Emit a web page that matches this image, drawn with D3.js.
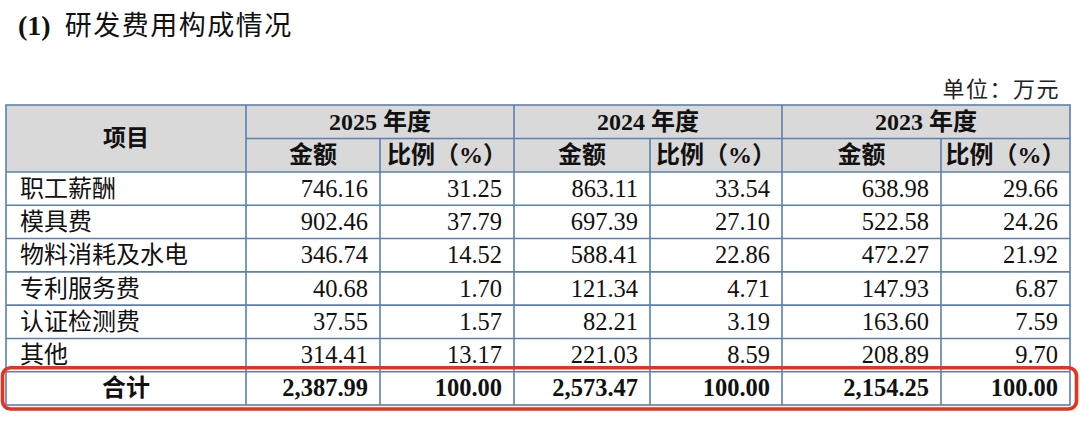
<!DOCTYPE html>
<html>
<head>
<meta charset="utf-8">
<script src="https://cdn.jsdelivr.net/npm/d3@7"></script>
<style>
  html, body { margin: 0; padding: 0; background: #fff; }
  svg { display: block; }
</style>
</head>
<body>
<div id="chart"></div>
<script>
// table content
const title = "研发费用构成情况";
const unitLabel = "单位：万元";
const years = ["2025 年度", "2024 年度", "2023 年度"];
const subHeaders = ["金额", "比例（%）"];
const items = ["职工薪酬", "模具费", "物料消耗及水电", "专利服务费", "认证检测费", "其他"];
const amount2025 = [746.16, 902.46, 346.74, 40.68, 37.55, 314.41];
const ratio2025 = [31.25, 37.79, 14.52, 1.70, 1.57, 13.17];
const amount2024 = [863.11, 697.39, 588.41, 121.34, 82.21, 221.03];
const ratio2024 = [33.54, 27.10, 22.86, 4.71, 3.19, 8.59];
const amount2023 = [638.98, 522.58, 472.27, 147.93, 163.60, 208.89];
const ratio2023 = [29.66, 24.26, 21.92, 6.87, 7.59, 9.70];
const totalLabel = "合计";
const totalAmounts = [2387.99, 2573.47, 2154.25];
const totalRatios = [100.00, 100.00, 100.00];

const width = 1080, height = 430;
const lineColor = "#5b80ad";
const headFill = "#d9d9d9";
const fontFamily = "'Liberation Serif', 'Noto Sans CJK SC', serif";

const svg = d3.select("#chart").append("svg")
    .attr("width", width)
    .attr("height", height)
    .style("font-family", fontFamily);

// column edges
const colEdges = [6, 246, 380, 514, 650, 782, 941, 1070];
const tableTop = 105, headRow = 33.5;
const bodyTop = tableTop + headRow * 2;
const nRows = items.length + 1;

const y = d3.scaleLinear()
    .domain([0, nRows])
    .range([bodyTop, 405]);

const fmt = d3.format(",.2f");

// title
const t = svg.append("text")
    .attr("x", 18)
    .attr("y", 35)
    .style("font-size", "27px")
    .attr("fill", "#111");
t.append("tspan").style("font-weight", "bold").style("font-size", "28px").text("(1)");
t.append("tspan").attr("dx", 14).style("letter-spacing", "1.5px").text(title);

// unit
svg.append("text")
    .attr("x", 1060)
    .attr("y", 97)
    .attr("text-anchor", "end")
    .style("font-size", "22px")
    .style("letter-spacing", "1.5px")
    .attr("fill", "#222")
    .text(unitLabel);

// header background
svg.append("rect")
    .attr("x", colEdges[0])
    .attr("y", tableTop)
    .attr("width", colEdges[7] - colEdges[0])
    .attr("height", headRow * 2)
    .attr("fill", headFill);

// header texts
svg.append("text")
    .attr("x", (colEdges[0] + colEdges[1]) / 2)
    .attr("y", tableTop + headRow + 7)
    .attr("text-anchor", "middle")
    .style("font-size", "23px")
    .style("font-weight", "bold")
    .attr("fill", "#111")
    .text("项目");

years.forEach((yr, i) => {
  const x0 = colEdges[1 + i * 2], x1 = colEdges[3 + i * 2];
  svg.append("text")
      .attr("x", (x0 + x1) / 2)
      .attr("y", tableTop + headRow / 2 + 8)
      .attr("text-anchor", "middle")
      .style("font-size", "24px")
      .style("font-weight", "bold")
      .attr("fill", "#111")
      .text(yr);
  subHeaders.forEach((s, j) => {
    const a = colEdges[1 + i * 2 + j], b = colEdges[2 + i * 2 + j];
    svg.append("text")
        .attr("x", (a + b) / 2)
        .attr("y", tableTop + headRow * 1.5 + 8)
        .attr("text-anchor", "middle")
        .style("font-size", "24px")
        .style("font-weight", "bold")
        .attr("fill", "#111")
        .text(s);
  });
});

// body rows
const amounts = [amount2025, amount2024, amount2023];
const ratios = [ratio2025, ratio2024, ratio2023];
const rows = items.map((name, r) => {
  const cells = [];
  amounts.forEach((a, k) => { cells.push(a[r]); cells.push(ratios[k][r]); });
  return { name: name, cells: cells, total: false };
});
const totalCells = [];
totalAmounts.forEach((a, k) => { totalCells.push(a); totalCells.push(totalRatios[k]); });
rows.push({ name: totalLabel, cells: totalCells, total: true });

const rowG = svg.selectAll("g.row")
    .data(rows)
    .enter()
    .append("g")
    .attr("class", "row")
    .attr("transform", (d, i) => `translate(0,${y(i) + (y(1) - y(0)) / 2 + 8})`);

rowG.append("text")
    .attr("x", d => d.total ? (colEdges[0] + colEdges[1]) / 2 : 20)
    .attr("text-anchor", d => d.total ? "middle" : "start")
    .style("font-size", "24px")
    .style("font-weight", d => d.total ? "bold" : "normal")
    .attr("fill", "#111")
    .text(d => d.name);

rowG.each(function (d) {
  d3.select(this).selectAll("text.num")
      .data(d.cells)
      .enter()
      .append("text")
      .attr("class", "num")
      .attr("x", (v, j) => colEdges[j + 2] - 12)
      .attr("text-anchor", "end")
      .style("font-size", "24.5px")
      .style("font-weight", d.total ? "bold" : "normal")
      .attr("fill", "#111")
      .text(v => fmt(v));
});

// grid lines
const grid = svg.append("g")
    .attr("stroke", lineColor)
    .attr("stroke-width", 1.6)
    .attr("fill", "none");

grid.append("rect")
    .attr("x", colEdges[0])
    .attr("y", tableTop)
    .attr("width", colEdges[7] - colEdges[0])
    .attr("height", y(nRows) - tableTop);

// horizontal lines
grid.append("line")
    .attr("x1", colEdges[1]).attr("x2", colEdges[7])
    .attr("y1", tableTop + headRow).attr("y2", tableTop + headRow);
d3.range(0, nRows).forEach(i => {
  grid.append("line")
      .attr("x1", colEdges[0]).attr("x2", colEdges[7])
      .attr("y1", y(i)).attr("y2", y(i));
});

// vertical lines
colEdges.slice(1, -1).forEach((cx, i) => {
  const isYearEdge = (i % 2 === 0);
  grid.append("line")
      .attr("x1", cx).attr("x2", cx)
      .attr("y1", isYearEdge ? tableTop : tableTop + headRow)
      .attr("y2", y(nRows));
});

// highlight box around total row
svg.append("rect")
    .attr("x", 2.5)
    .attr("y", y(nRows - 1) - 4)
    .attr("width", 1074)
    .attr("height", y(nRows) - y(nRows - 1) + 8)
    .attr("rx", 8)
    .attr("fill", "none")
    .attr("stroke", "#e8321f")
    .attr("stroke-width", 3.6);
</script>
</body>
</html>
